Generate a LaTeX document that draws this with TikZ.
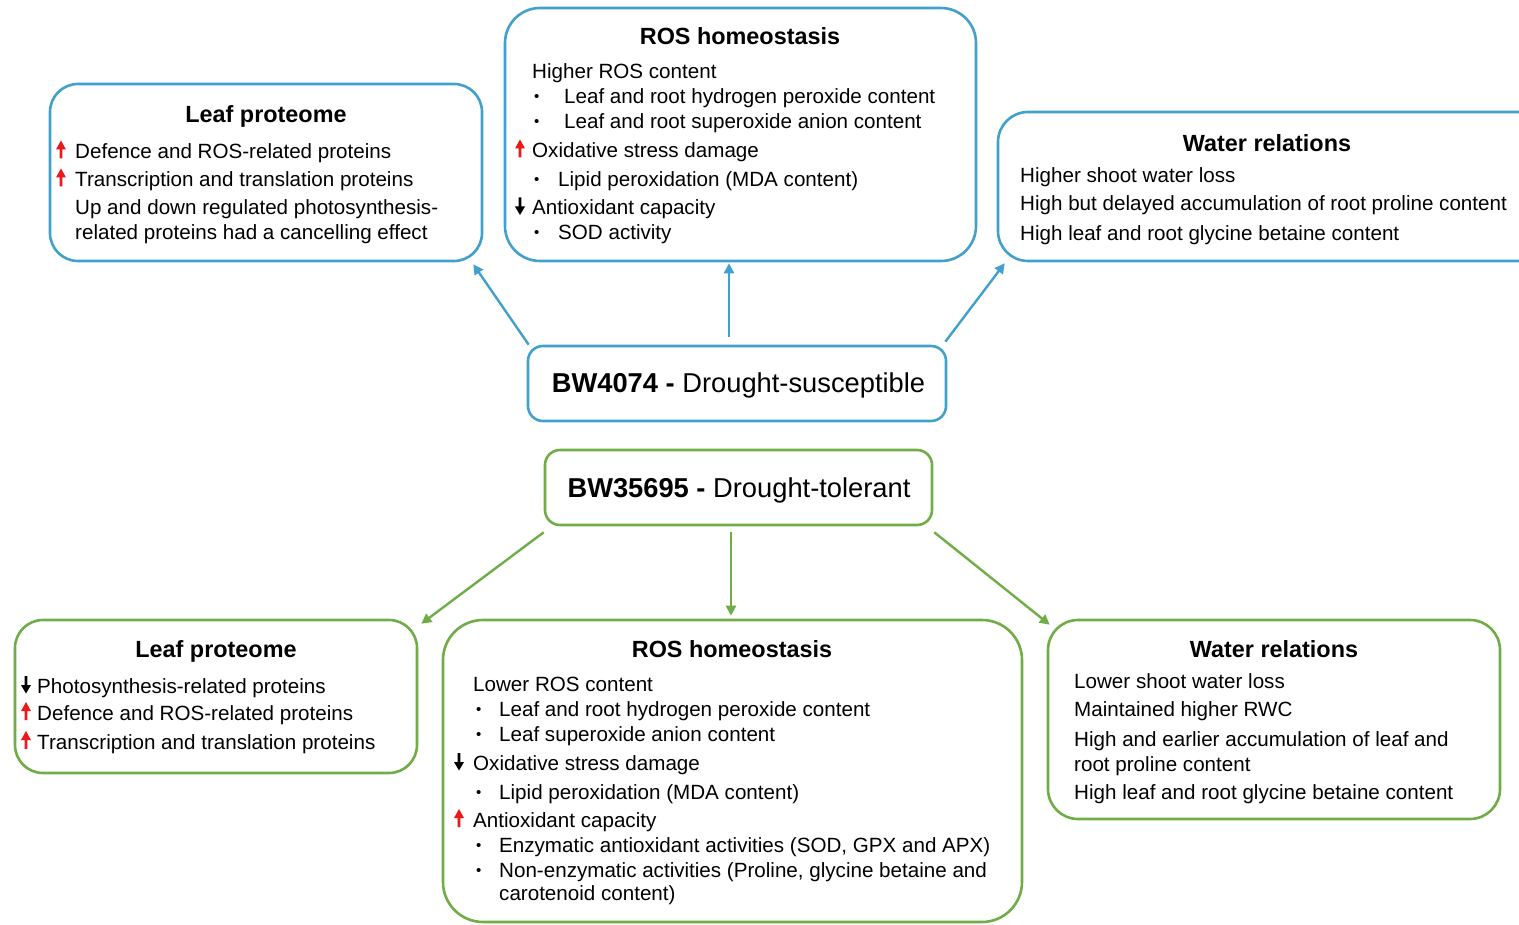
\documentclass[tikz,border=0pt]{standalone}
\usepackage{fontspec}
\setmainfont{Liberation Sans}
\usetikzlibrary{arrows.meta,calc}
\definecolor{cblue}{RGB}{66,160,205}
\definecolor{cgreen}{RGB}{112,173,71}
\definecolor{cred}{RGB}{235,25,25}
\newcommand\fsBody{\fontsize{20.6}{24}\selectfont}
\newcommand\fsHead{\fontsize{23.4}{28}\selectfont\bfseries}
\newcommand\fsLine{\fontsize{27.3}{32}\selectfont}
\newcommand\smallbullet{\raisebox{1.5pt}{\fontsize{15}{15}\selectfont\textbullet}}
\newcommand\bl[2][21pt]{\makebox[#1][l]{\smallbullet}#2}

\begin{document}
\begin{tikzpicture}[x=1pt,y=-1pt,
  bluebox/.style={draw=cblue, line width=2.6pt, rounded corners=#1, inner sep=0pt},
  greenbox/.style={draw=cgreen, line width=2.6pt, rounded corners=#1, inner sep=0pt},
  txt/.style={anchor=base west, inner sep=0pt, font=\fsBody},
  ttl/.style={anchor=base, inner sep=0pt, font=\fsHead},
  mainline/.style={anchor=base, inner sep=0pt, font=\fsLine},
  barrow/.style={draw=cblue, line width=2.4pt, -{Triangle[length=10pt,width=10pt]}},
  garrow/.style={draw=cgreen, line width=2.4pt, -{Triangle[length=10pt,width=10pt]}},
  uparr/.pic={\fill[cred] (-1.4,0) -- (-1.4,-9) -- (-5,-9) -- (0,-18) -- (5,-9) -- (1.4,-9) -- (1.4,0) -- cycle;},
  dnarr/.pic={\fill[black] (-1.4,-17) -- (-1.4,-8) -- (-5,-8) -- (0,0.5) -- (5,-8) -- (1.4,-8) -- (1.4,-17) -- cycle;}
]
\path[use as bounding box, clip] (0,0) rectangle (1519,925);
\fill[white] (0,0) rectangle (1519,925);

% ---------- drought-susceptible genotype (blue) ----------
\node[bluebox=28pt, minimum width=432pt, minimum height=177pt] (lpT) at (266,172.5) {};
\node[bluebox=35pt, minimum width=471pt, minimum height=253pt] (rosT) at (740.5,134.5) {};
\node[bluebox=30pt, minimum width=560pt, minimum height=149pt] (wrT) at (1278,186.5) {};
\node[bluebox=15pt, minimum width=418pt, minimum height=75pt] (bwS) at (737,383.5) {};

\node[mainline] (bwSt) at (738.5,392.5) {\textbf{BW4074 -} Drought-susceptible};

\node[ttl] (lpTh) at (266,123) {Leaf proteome};
\node[txt] (lpT1) at (75,158.5) {Defence and ROS-related proteins};
\node[txt] (lpT2) at (75,186.5) {Transcription and translation proteins};
\node[txt] (lpT3) at (75,214.5) {Up and down regulated photosynthesis-};
\node[txt] (lpT4) at (75,239.5) {related proteins had a cancelling effect};
\pic at (61,158.5) {uparr};
\pic at (61,186.5) {uparr};

\node[ttl] (rosTh) at (740,44.5) {ROS homeostasis};
\node[txt] (rosT1) at (532,78.5) {Higher ROS content};
\node[txt] (rosT2) at (534,103.5) {\bl[30pt]{Leaf and root hydrogen peroxide content}};
\node[txt] (rosT3) at (534,128.5) {\bl[30pt]{Leaf and root superoxide anion content}};
\node[txt] (rosT4) at (532,157.5) {Oxidative stress damage};
\node[txt] (rosT5) at (534,186.5) {\bl[24pt]{Lipid peroxidation (MDA content)}};
\node[txt] (rosT6) at (532,214.5) {Antioxidant capacity};
\node[txt] (rosT7) at (534,239.5) {\bl[24pt]{SOD activity}};
\pic at (520,157.5) {uparr};
\pic at (520,214.5) {dnarr};

\node[ttl] (wrTh) at (1267,152) {Water relations};
\node[txt] (wrT1) at (1020,183) {Higher shoot water loss};
\node[txt] (wrT2) at (1020,211) {High but delayed accumulation of root proline content};
\node[txt] (wrT3) at (1020,241) {High leaf and root glycine betaine content};

\draw[barrow] ($(bwS.north west)+(2,0)$) -- ($(lpT.south east)+(-10,2)$);
\draw[barrow] ($(bwS.north)+(-8,-8)$) -- ($(rosT.south)+(-11.5,1)$);
\draw[barrow] ($(bwS.north east)+(-2,-3)$) -- ($(wrT.south west)+(8,1)$);

% ---------- drought-tolerant genotype (green) ----------
\node[greenbox=15pt, minimum width=387pt, minimum height=75pt] (bwT) at (738.5,487.5) {};
\node[greenbox=28pt, minimum width=402pt, minimum height=153pt] (lpB) at (216,696.5) {};
\node[greenbox=40pt, minimum width=579pt, minimum height=302pt] (rosB) at (732.5,771) {};
\node[greenbox=30pt, minimum width=452pt, minimum height=199pt] (wrB) at (1274,719.5) {};

\node[mainline] (bwTt) at (739,497) {\textbf{BW35695 -} Drought-tolerant};

\node[ttl] (lpBh) at (216,657) {Leaf proteome};
\node[txt] (lpB1) at (37,693) {Photosynthesis-related proteins};
\node[txt] (lpB2) at (37,720) {Defence and ROS-related proteins};
\node[txt] (lpB3) at (37,749) {Transcription and translation proteins};
\pic at (26,693) {dnarr};
\pic at (26,720) {uparr};
\pic at (26,749) {uparr};

\node[ttl] (rosBh) at (732,657) {ROS homeostasis};
\node[txt] (rosB1) at (473,691) {Lower ROS content};
\node[txt] (rosB2) at (476,716) {\bl[23pt]{Leaf and root hydrogen peroxide content}};
\node[txt] (rosB3) at (476,741) {\bl[23pt]{Leaf superoxide anion content}};
\node[txt] (rosB4) at (473,770) {Oxidative stress damage};
\node[txt] (rosB5) at (476,799) {\bl[23pt]{Lipid peroxidation (MDA content)}};
\node[txt] (rosB6) at (473,827) {Antioxidant capacity};
\node[txt] (rosB7) at (476,852) {\bl[23pt]{Enzymatic antioxidant activities (SOD, GPX and APX)}};
\node[txt] (rosB8) at (476,877) {\bl[23pt]{Non-enzymatic activities (Proline, glycine betaine and}};
\node[txt] (rosB9) at (499,900) {carotenoid content)};
\pic at (459,770) {dnarr};
\pic at (459,827) {uparr};

\node[ttl] (wrBh) at (1274,657) {Water relations};
\node[txt] (wrB1) at (1074,688) {Lower shoot water loss};
\node[txt] (wrB2) at (1074,716) {Maintained higher RWC};
\node[txt] (wrB3) at (1074,746) {High and earlier accumulation of leaf and};
\node[txt] (wrB4) at (1074,771) {root proline content};
\node[txt] (wrB5) at (1074,799) {High leaf and root glycine betaine content};

\draw[garrow] ($(bwT.south west)+(0,6)$) -- ($(lpB.north east)+(3,5)$);
\draw[garrow] ($(bwT.south)+(-7.5,6)$) -- ($(rosB.north)+(-1.5,-3)$);
\draw[garrow] ($(bwT.south east)+(1,6)$) -- ($(wrB.north west)+(3,6)$);
\end{tikzpicture}
\end{document}
